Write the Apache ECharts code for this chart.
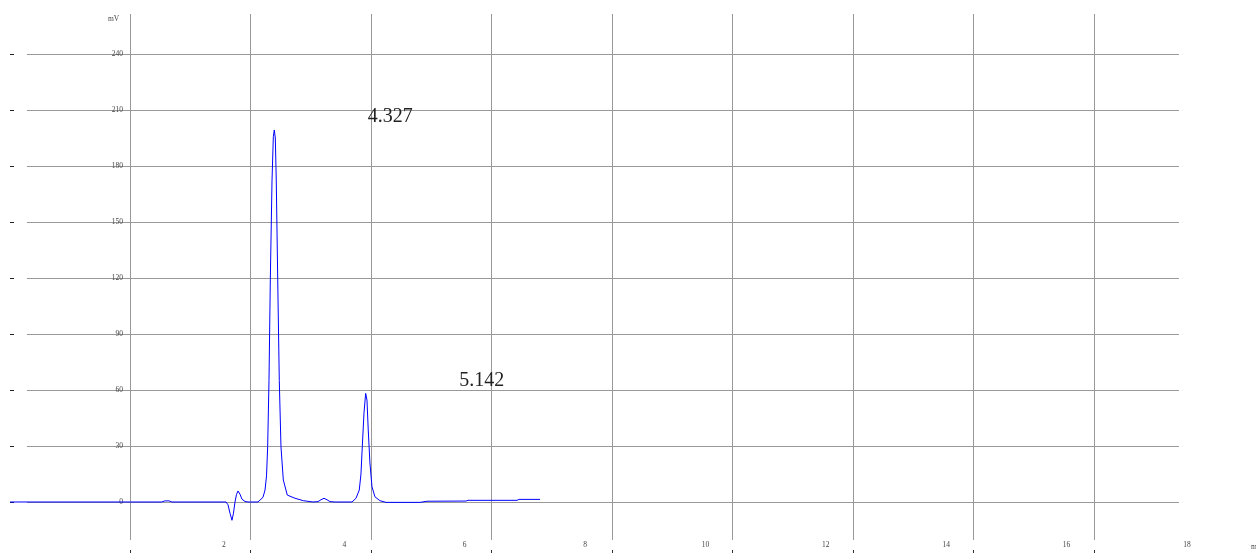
<!DOCTYPE html>
<html>
<head>
<meta charset="utf-8">
<script src="https://cdn.jsdelivr.net/npm/echarts@6/dist/echarts.min.js"></script>
<style>
  html, body { margin: 0; padding: 0; background: #fff; }
  #chart { width: 1256px; height: 553px; }
</style>
</head>
<body>
<div id="chart"></div>
<script>
// Chromatogram trace: retention time (min) vs detector signal (mV)
const times = [
  -1.555, 0.964, 1.020, 1.053, 1.087, 1.136, 2.034, 2.067, 2.100, 2.133,
  2.158, 2.183, 2.208, 2.233, 2.266, 2.299, 2.349, 2.399, 2.565, 2.598,
  2.648, 2.682, 2.707, 2.726, 2.748, 2.770, 2.798, 2.820, 2.836, 2.853,
  2.869, 2.893, 2.919, 2.947, 2.986, 3.052, 3.180, 3.318, 3.479, 3.562,
  3.612, 3.662, 3.712, 3.762, 3.845, 4.127, 4.193, 4.248, 4.276, 4.298,
  4.326, 4.354, 4.376, 4.397, 4.425, 4.459, 4.508, 4.591, 4.692, 5.257,
  5.373, 6.021, 6.055, 6.869, 6.903, 7.252
];
const signal = [
  0, 0, 0.6, 1.1, 0.6, 0, 0, -1.5, -6, -9.8,
  -6, 0, 4, 5.9, 4.2, 1.5, 0.3, 0, 0, 0.5,
  2.5, 6.4, 14, 29.6, 65, 119, 172, 195.7, 199.3, 195,
  172, 119, 65, 29.6, 11.8, 3.7, 2, 0.7, 0, 0.2,
  1.2, 2, 1.2, 0.2, 0, 0, 2, 6.4, 15, 29.6,
  47.6, 58.2, 54.6, 38.6, 20.9, 8.2, 2.8, 0.7, -0.2, -0.2,
  0.4, 0.5, 0.9, 0.9, 1.4, 1.4
];

// Peak annotations: index of each apex in the trace and its printed label
const peakApexIndex = [28, 51];
const peakLabels = ['4.327', '5.142'];

// Axis tick labels
const timeTicks = [2, 4, 6, 8, 10, 12, 14, 16, 18];
const signalTicks = [0, 30, 60, 90, 120, 150, 180, 210, 240];

const serif = 'Liberation Serif, Times New Roman, serif';
const tickFont = { fontFamily: serif, fontSize: 7.5 };

const chart = echarts.init(document.getElementById('chart'), null, { renderer: 'canvas' });

const trace = times.map((t, i) => [t, signal[i]]);
const sigMin = signalTicks[0];
const sigMax = signalTicks[signalTicks.length - 1];

const hiddenX = gi => ({ gridIndex: gi, type: 'value', min: 0, max: 1, show: false });
const hiddenY = gi => ({ gridIndex: gi, type: 'value', min: 0, max: 1, show: false });

chart.setOption({
  animation: false,
  backgroundColor: '#ffffff',
  title: [
    {
      text: 'mV', left: 108, top: 15, padding: 0,
      textStyle: { fontFamily: serif, fontSize: 7.5, fontWeight: 'normal', color: '#444' }
    },
    {
      text: 'min', left: 1251, top: 543, padding: 0,
      textStyle: { fontFamily: serif, fontSize: 7.5, fontWeight: 'normal', color: '#444' }
    }
  ],
  grid: [
    // 0: plotting area for the trace
    { left: 10, top: 14, width: 1169, height: 526, containLabel: false },
    // 1: signal gridlines and labels
    { left: 27, top: 54, width: 1152, height: 448, containLabel: false },
    // 2: time gridlines
    { left: 130, top: 14, width: 963.8, height: 526, containLabel: false },
    // 3: time tick labels
    { left: 103.6, top: 14, width: 1083.4, height: 526, containLabel: false },
    // 4: signal tick marks at the far left
    { left: 14, top: 54, width: 100, height: 448, containLabel: false },
    // 5: time tick marks below the gridlines
    { left: 130, top: 14, width: 963.8, height: 536, containLabel: false }
  ],
  xAxis: [
    { gridIndex: 0, type: 'value', min: -1.555, max: 17.867, show: false },
    hiddenX(1),
    {
      gridIndex: 2, type: 'value', min: 0.4386, max: 16.4386, interval: 2,
      position: 'bottom',
      axisLine: { show: false },
      axisTick: { show: false },
      axisLabel: { show: false },
      splitLine: { show: true, lineStyle: { color: '#999', width: 1 } }
    },
    {
      gridIndex: 3, type: 'value', min: 0, max: 18, interval: 2,
      position: 'bottom',
      axisLine: { show: false },
      axisTick: { show: false },
      splitLine: { show: false },
      axisLabel: {
        show: true, margin: 1, color: '#444', showMinLabel: false, showMaxLabel: true,
        ...tickFont,
        formatter: v => (timeTicks.includes(v) ? String(v) : '')
      }
    },
    hiddenX(4),
    {
      gridIndex: 5, type: 'value', min: 0.4386, max: 16.4386, interval: 2,
      position: 'bottom',
      axisLine: { show: false },
      axisTick: { show: true, length: 3, lineStyle: { color: '#333', width: 1 } },
      axisLabel: { show: false },
      splitLine: { show: false }
    }
  ],
  yAxis: [
    { gridIndex: 0, type: 'value', min: -20.36, max: 261.43, show: false },
    {
      gridIndex: 1, type: 'value', min: sigMin, max: sigMax, interval: 30,
      position: 'left',
      axisLine: { show: false },
      axisTick: { show: false },
      axisLabel: { show: true, margin: -96, color: '#444', ...tickFont },
      splitLine: { show: true, lineStyle: { color: '#999', width: 1 } }
    },
    hiddenY(2),
    hiddenY(3),
    {
      gridIndex: 4, type: 'value', min: sigMin, max: sigMax, interval: 30,
      position: 'left',
      axisLine: { show: false },
      axisTick: { show: true, length: 4, lineStyle: { color: '#222', width: 1 } },
      axisLabel: { show: false },
      splitLine: { show: false }
    },
    hiddenY(5)
  ],
  series: [
    {
      type: 'line',
      xAxisIndex: 0,
      yAxisIndex: 0,
      data: trace,
      showSymbol: false,
      symbol: 'none',
      lineStyle: { color: '#0000ff', width: 1 },
      z: 5,
      markPoint: {
        symbol: 'circle',
        symbolSize: 0,
        silent: true,
        label: {
          show: true,
          position: 'inside',
          offset: [116, -13],
          fontFamily: serif,
          fontSize: 20,
          color: '#222',
          formatter: p => p.name
        },
        data: peakApexIndex.map((idx, k) => ({
          name: peakLabels[k],
          coord: [times[idx], signal[idx]]
        }))
      }
    }
  ]
});
</script>
</body>
</html>
